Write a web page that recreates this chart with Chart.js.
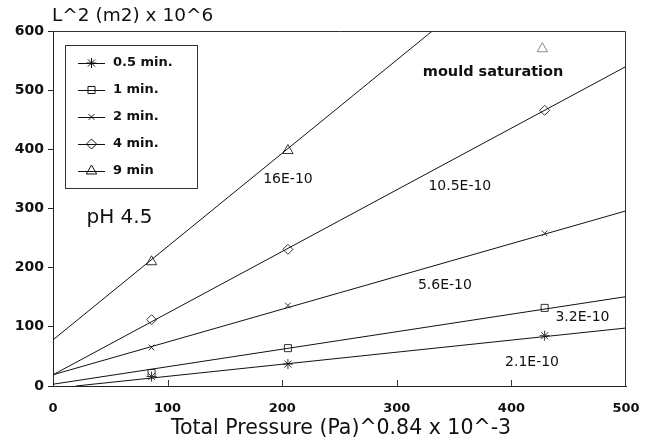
<!DOCTYPE html>
<html>
<head>
<meta charset="utf-8">
<script src="https://cdn.jsdelivr.net/npm/chart.js@4/dist/chart.umd.min.js"></script>
<style>
  html, body { margin: 0; padding: 0; background: #fff; }
  #wrap { width: 655px; height: 444px; }
</style>
</head>
<body>
<div id="wrap"><canvas id="cake"></canvas></div>
<script>
// compaction time series and their marker shapes
const seriesNames = ['0.5 min.', '1 min.', '2 min.', '4 min.', '9 min'];
const seriesStyles = ['star', 'rect', 'crossRot', 'rectRot', 'triangle'];
const seriesRadius = [5, 5, 4, 5, 6];

// measured points (pressure term, L^2)
const pressX = [86, 205, 429];
const l2Half = [16, 37, 85];
const l2One = [22, 64, 132];
const l2Two = [65, 136, 258];
const l2Four = [112, 231, 466];
const l2Nine = [210, 398];

// fitted straight lines: start and end points
const fitStartX = [20, 0, 0, 0, 0];
const fitStartY = [0, 3, 19, 19, 78];
const fitEndX = [500, 500, 500, 500, 331];
const fitEndY = [98, 151, 296, 540, 600];

// point reached when the mould is full
const saturationX = [427];
const saturationY = [570];

// permeability labels beside each line
const slopeLabels = ['16E-10', '10.5E-10', '5.6E-10', '3.2E-10', '2.1E-10'];
const slopeLabelX = [205, 355, 342, 462, 418];
const slopeLabelY = [350, 338, 170, 116, 40];

const xTicks = [0, 100, 200, 300, 400, 500];
const yTicks = [0, 100, 200, 300, 400, 500, 600];

const FONT = '"DejaVu Sans", Verdana, sans-serif';
const INK = '#111';
const CLEAR = 'rgba(0,0,0,0)';

const measured = [l2Half, l2One, l2Two, l2Four, l2Nine];
const datasets = [];
seriesNames.forEach((name, i) => {
  datasets.push({
    label: name + ' fit',
    type: 'line',
    data: [{x: fitStartX[i], y: fitStartY[i]}, {x: fitEndX[i], y: fitEndY[i]}],
    borderColor: INK,
    borderWidth: 1,
    pointRadius: 0,
    fill: false
  });
  datasets.push({
    label: name,
    data: measured[i].map((v, k) => ({x: pressX[k], y: v})),
    pointStyle: seriesStyles[i],
    pointRadius: seriesRadius[i],
    borderColor: '#333',
    borderWidth: 1,
    backgroundColor: CLEAR,
    showLine: false
  });
});
datasets.push({
  label: 'saturation',
  data: saturationX.map((v, k) => ({x: v, y: saturationY[k]})),
  pointStyle: 'triangle',
  pointRadius: 6,
  borderColor: '#888',
  borderWidth: 1,
  backgroundColor: CLEAR,
  showLine: false
});

const overlay = {
  id: 'overlay',
  afterDraw(chart) {
    const {ctx, chartArea: a, scales: {x, y}} = chart;
    ctx.save();
    ctx.strokeStyle = '#333';
    ctx.lineWidth = 1;
    // frame top and right
    ctx.beginPath();
    ctx.moveTo(a.left, a.top + 0.5);
    ctx.lineTo(a.right - 0.5, a.top + 0.5);
    ctx.lineTo(a.right - 0.5, a.bottom);
    ctx.stroke();
    // inward ticks on x axis
    xTicks.slice(1, -1).forEach(v => {
      const px = Math.round(x.getPixelForValue(v)) + 0.5;
      ctx.beginPath();
      ctx.moveTo(px, a.bottom);
      ctx.lineTo(px, a.bottom - 6);
      ctx.stroke();
    });

    ctx.fillStyle = INK;
    ctx.textBaseline = 'middle';
    // axis titles
    ctx.font = '18.5px ' + FONT;
    ctx.textAlign = 'left';
    ctx.fillText('L^2 (m2) x 10^6', a.left - 1, 16);
    ctx.font = '20.5px ' + FONT;
    ctx.textAlign = 'center';
    ctx.fillText('Total Pressure (Pa)^0.84 x 10^-3', 341, 429);

    // slope labels
    ctx.font = '14px ' + FONT;
    slopeLabels.forEach((t, i) => {
      ctx.fillText(t, x.getPixelForValue(slopeLabelX[i]), y.getPixelForValue(slopeLabelY[i]));
    });
    ctx.font = 'bold 14.5px ' + FONT;
    ctx.fillText('mould saturation', x.getPixelForValue(384), y.getPixelForValue(531));
    ctx.font = '20px ' + FONT;
    ctx.fillText('pH 4.5', x.getPixelForValue(58), y.getPixelForValue(284));

    // legend box
    const bx = a.left + 12, by = a.top + 14, bw = 132, bh = 143;
    ctx.strokeStyle = '#333';
    ctx.strokeRect(bx + 0.5, by + 0.5, bw, bh);
    ctx.font = 'bold 13px ' + FONT;
    ctx.textAlign = 'left';
    seriesNames.forEach((name, i) => {
      const ry = by + 18 + i * 27;
      ctx.strokeStyle = INK;
      ctx.beginPath();
      ctx.moveTo(bx + 13, ry + 0.5);
      ctx.lineTo(bx + 40, ry + 0.5);
      ctx.stroke();
      ctx.fillStyle = CLEAR;
      Chart.helpers.drawPoint(ctx, {
        pointStyle: seriesStyles[i],
        radius: seriesRadius[i],
        borderWidth: 1
      }, bx + 26.5, ry);
      ctx.fillStyle = INK;
      ctx.fillText(name, bx + 48, ry);
    });
    ctx.restore();
  }
};

new Chart(document.getElementById('cake'), {
  type: 'scatter',
  data: {datasets: datasets},
  options: {
    responsive: true,
    maintainAspectRatio: false,
    animation: false,
    layout: {padding: {top: 31, right: 29, left: 0, bottom: 0}},
    plugins: {legend: {display: false}, tooltip: {enabled: false}},
    scales: {
      x: {
        type: 'linear',
        min: 0, max: 500,
        afterFit: s => { s.height = 58; },
        afterBuildTicks: s => { s.ticks = xTicks.map(v => ({value: v})); },
        border: {color: '#222', width: 1},
        grid: {display: false, drawTicks: false},
        ticks: {color: INK, font: {family: FONT, size: 13, weight: 'bold'}, padding: 15, maxRotation: 0}
      },
      y: {
        min: 0, max: 600,
        afterFit: s => { s.width = 53; },
        afterBuildTicks: s => { s.ticks = yTicks.map(v => ({value: v})); },
        border: {color: '#222', width: 1},
        grid: {drawOnChartArea: false, tickLength: 5, color: '#222'},
        ticks: {color: INK, font: {family: FONT, size: 14, weight: 'bold'}, padding: 4}
      }
    }
  },
  plugins: [overlay]
});
</script>
</body>
</html>
